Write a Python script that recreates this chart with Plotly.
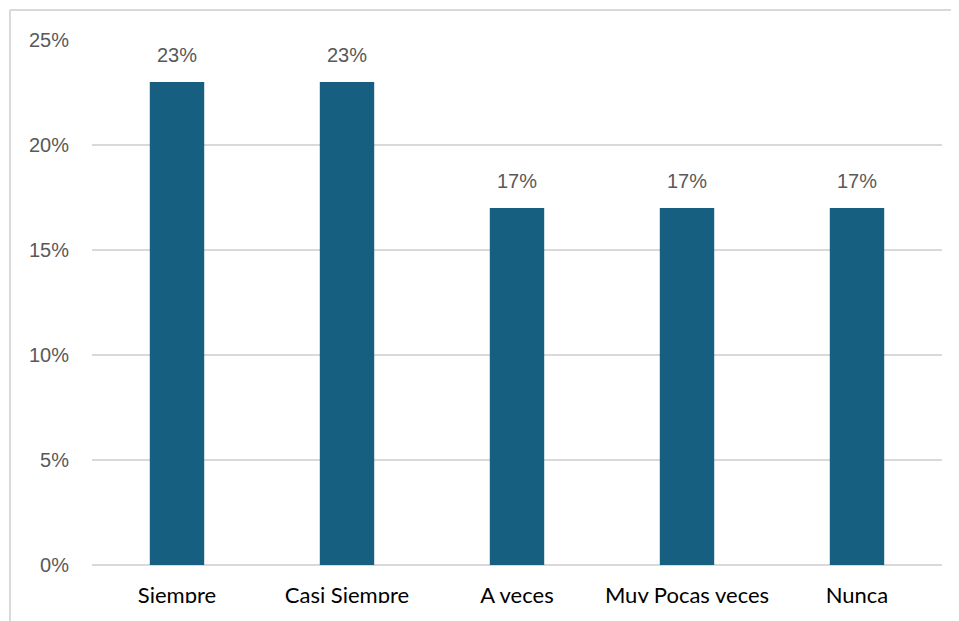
import plotly.graph_objects as go

# Datos
categorias = ["Siempre", "Casi Siempre", "A veces", "Muy Pocas veces", "Nunca"]
porcentajes = [0.23, 0.23, 0.17, 0.17, 0.17]
etiquetas = ["23%", "23%", "17%", "17%", "17%"]
ticks_y = [0, 0.05, 0.10, 0.15, 0.20, 0.25]
ticks_y_texto = ["0%", "5%", "10%", "15%", "20%", "25%"]

COLOR_BARRA = "#175F80"
GRIS_TEXTO = "#595959"
GRIS_LINEA = "#D9D9D9"

fig = go.Figure()

fig.add_trace(go.Bar(
    x=categorias,
    y=porcentajes,
    marker=dict(color=COLOR_BARRA, line=dict(width=0)),
    hoverinfo="skip",
))

# Etiquetas de datos sobre las barras
for cat, val, txt in zip(categorias, porcentajes, etiquetas):
    fig.add_annotation(
        x=cat, y=val, text=txt, showarrow=False,
        yanchor="bottom", yshift=14,
        font=dict(family="Liberation Sans, Arial", size=20, color=GRIS_TEXTO),
    )

# Marco del gráfico (solo arriba e izquierda visibles)
fig.add_shape(type="line", xref="paper", yref="paper",
              x0=-0.0965, x1=1.03, y0=1.0571, y1=1.0571,
              line=dict(color=GRIS_LINEA, width=2), layer="above")
fig.add_shape(type="line", xref="paper", yref="paper",
              x0=-0.0965, x1=-0.0965, y0=1.0571, y1=-0.12,
              line=dict(color=GRIS_LINEA, width=2), layer="above")
# Recorte de las etiquetas del eje x (como en la imagen original)
fig.add_shape(type="rect", xref="paper", yref="paper",
              x0=-0.094, x1=1.03, y0=-0.0724, y1=-0.12,
              fillcolor="white", line=dict(width=0), layer="above")

fig.update_layout(
    width=951, height=613,
    margin=dict(l=84, r=17, t=32, b=56),
    plot_bgcolor="white",
    paper_bgcolor="white",
    showlegend=False,
    bargap=0.68,
    xaxis=dict(
        showgrid=False, showline=False, ticks="",
        tickfont=dict(family="Lato, Carlito, Calibri", size=22, color="#000000"),
        ticklabelstandoff=15,
    ),
    yaxis=dict(
        range=[0, 0.25],
        tickvals=ticks_y, ticktext=ticks_y_texto,
        showgrid=True, gridcolor=GRIS_LINEA, gridwidth=2,
        zeroline=True, zerolinecolor=GRIS_LINEA, zerolinewidth=2,
        showline=False, ticks="",
        tickfont=dict(family="Liberation Sans, Arial", size=20, color=GRIS_TEXTO),
        ticklabelstandoff=22,
    ),
)

fig.write_html("out.html")
